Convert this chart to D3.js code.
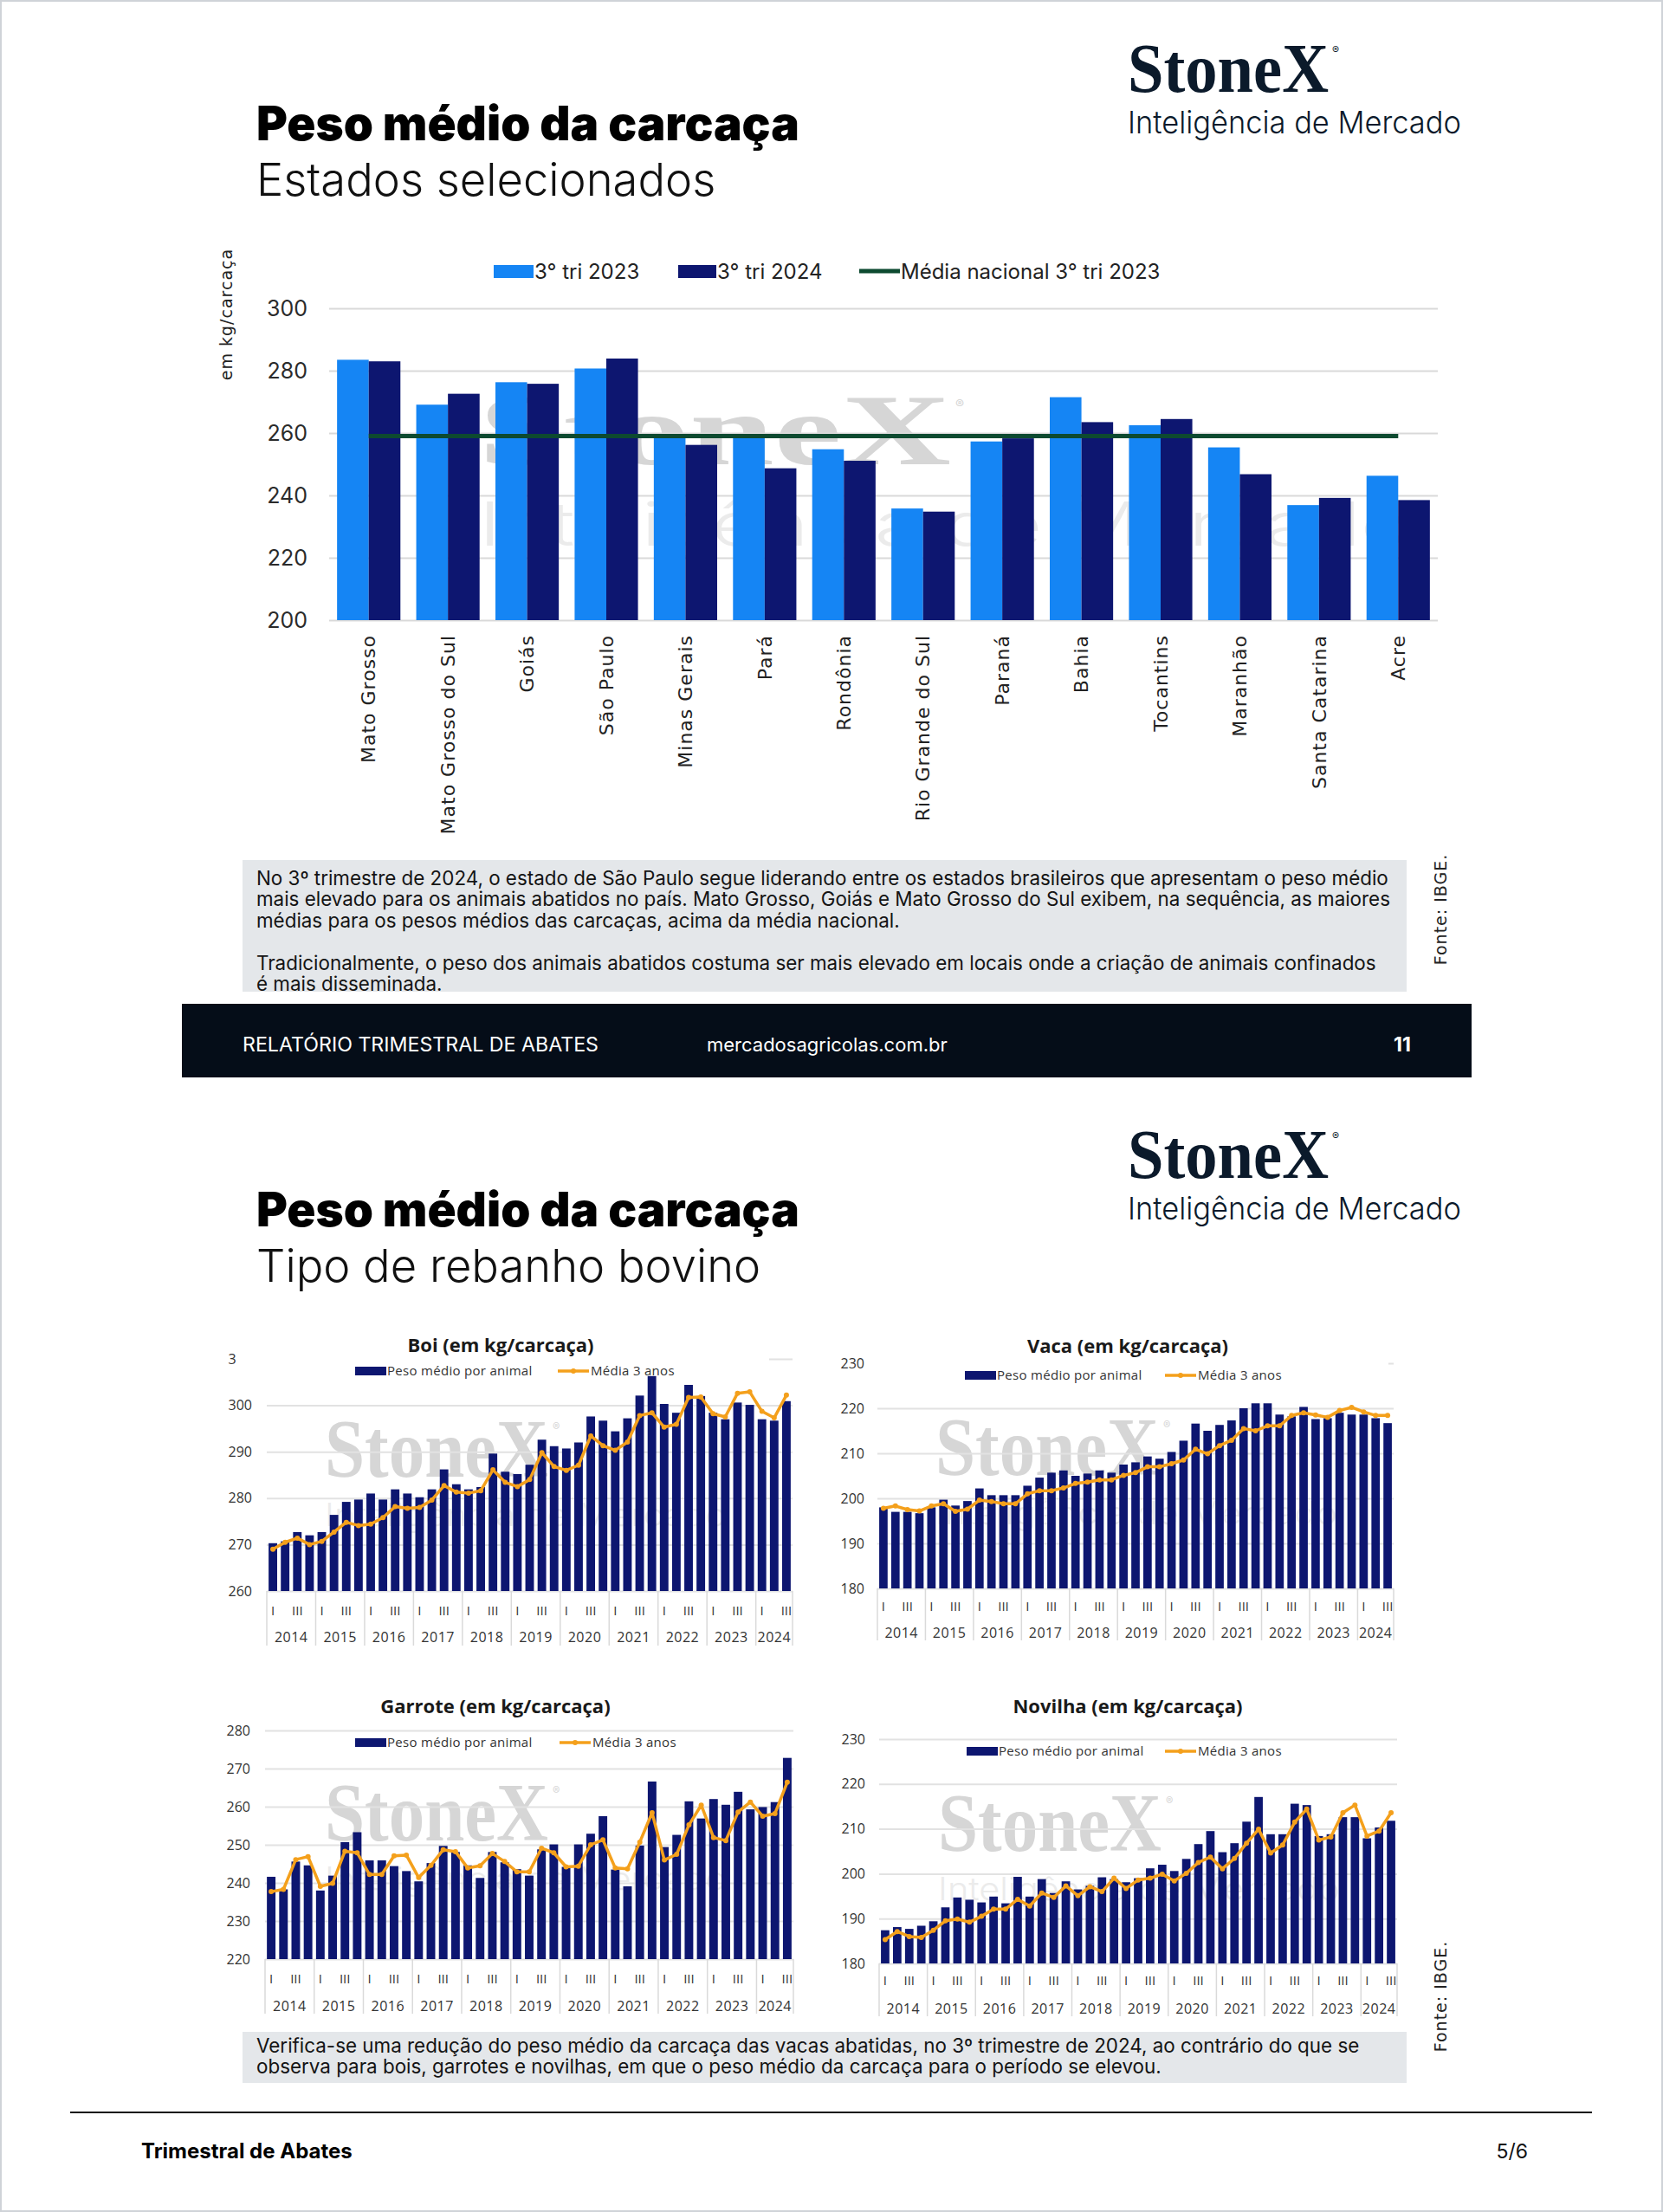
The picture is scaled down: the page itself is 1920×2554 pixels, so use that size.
<!DOCTYPE html>
<html><head><meta charset="utf-8">
<script src="https://cdn.jsdelivr.net/npm/d3@7"></script>
<style>
body{margin:0;background:#fff;}
svg{display:block;}
</style></head><body>
<svg id="page" width="1920" height="2554"></svg>
<script>
// ---------------- DATA ----------------
const states = ["Mato Grosso","Mato Grosso do Sul","Goiás","São Paulo","Minas Gerais","Pará","Rondônia","Rio Grande do Sul","Paraná","Bahia","Tocantins","Maranhão","Santa Catarina","Acre"];
const tri2023 = [283.5,269.1,276.3,280.7,259.6,259.6,254.8,235.8,257.3,271.5,262.5,255.4,236.9,246.3];
const tri2024 = [283.0,272.6,275.8,283.9,256.2,248.7,251.1,234.8,258.3,263.5,264.5,246.8,239.2,238.5];
const mediaNacional2023 = 259.0;
const topTicks = [200,220,240,260,280,300];
const topLegend = ["3° tri 2023","3° tri 2024","Média nacional 3° tri 2023"];

const years = ["2014","2015","2016","2017","2018","2019","2020","2021","2022","2023","2024"];
const quarterNames = ["I","II","III","IV"];
const quarterLabelsShown = ["I","III"];
const smallLegend = ["Peso médio por animal","Média 3 anos"];

const boiPeso = [270.3,270.7,272.7,272.0, 272.7,276.4,279.2,279.7, 281.0,279.7,281.9,281.0, 280.2,281.9,286.2,283.0, 281.9,282.4,289.6,285.7, 285.2,287.2,292.6,291.2, 290.7,292.0,297.6,296.7, 294.4,297.2,302.1,306.3, 300.3,298.4,304.4,302.0, 298.4,297.0,300.6,300.1, 297.0,296.7,300.9];
const boiMedia = [269.0,270.5,271.4,270.0, 270.7,272.7,274.8,274.1, 274.4,275.8,278.2,277.8, 278.0,279.6,282.7,281.3, 281.1,281.6,286.1,283.4, 282.5,284.0,289.8,286.8, 286.0,287.1,293.4,291.3, 290.3,292.1,297.8,298.4, 295.3,295.9,301.7,301.8, 298.2,297.5,302.6,302.9, 298.7,297.3,302.2];
const boiTicks = [260,270,280,290,300,310];

const vacaPeso = [198.0,197.0,197.0,196.7, 198.0,199.7,198.4,199.4, 202.2,200.7,200.7,200.7, 202.8,204.6,205.7,206.2, 205.0,205.5,206.2,205.7, 207.5,208.0,209.3,208.8, 210.3,212.8,216.6,215.0, 216.3,217.3,220.0,221.1, 221.1,218.6,218.2,220.3, 217.6,217.8,219.0,218.6, 218.6,217.8,216.7];
const vacaMedia = [197.8,198.3,197.5,197.2, 198.3,198.8,197.1,197.6, 199.6,199.3,198.8,198.8, 201.0,201.7,201.7,202.3, 203.3,203.6,204.1,204.1, 205.1,205.7,207.0,207.0, 207.7,208.5,210.9,209.9, 211.7,212.9,215.5,215.0, 216.1,216.1,218.4,219.0, 218.5,218.0,219.5,220.2, 219.2,218.4,218.4];
const vacaTicks = [180,190,200,210,220,230];

const garrotePeso = [241.6,238.3,245.6,244.6, 238.0,241.9,250.7,253.3, 245.9,245.9,244.4,243.1, 240.4,245.2,249.7,248.1, 244.6,241.3,248.1,245.4, 243.6,241.9,248.8,250.1, 244.2,250.1,252.9,257.5, 243.5,239.1,249.8,266.6, 249.4,252.6,261.4,256.9, 262.0,260.5,263.9,259.3, 259.9,261.2,272.8];
const garroteMedia = [237.7,238.3,246.1,246.9, 239.1,239.9,248.3,247.9, 242.2,242.2,247.1,247.3, 241.4,244.6,248.7,248.2, 243.9,244.5,247.7,245.6, 242.9,242.9,249.1,247.9, 244.2,244.4,250.0,251.3, 243.9,243.7,250.7,258.4, 246.0,247.5,255.2,260.4, 251.9,251.1,258.6,261.2, 257.5,258.2,266.4];
const garroteTicks = [220,230,240,250,260,270,280];

const novilhaPeso = [187.4,188.1,187.7,188.4, 189.4,192.5,194.7,194.2, 193.6,194.9,193.4,199.3, 194.9,198.8,195.7,198.3, 196.5,197.3,199.2,198.8, 198.1,199.0,201.2,202.0, 200.6,203.3,206.6,209.5, 204.8,206.8,211.6,217.1, 208.8,208.8,215.6,215.3, 208.4,208.8,212.6,212.6, 207.9,210.3,211.8];
const novilhaMedia = [185.3,187.1,186.0,185.8, 187.4,189.5,189.9,189.2, 190.5,192.1,192.1,194.3, 192.8,195.7,194.7,197.3, 195.1,197.1,196.0,199.0, 196.7,198.6,199.0,199.9, 198.4,200.1,202.5,203.7, 201.1,203.4,206.8,209.9, 204.6,206.4,211.5,214.4, 207.5,208.2,213.6,215.3, 208.4,209.5,213.6];
const novilhaTicks = [180,190,200,210,220,230];

const textTop = [
 "No 3º trimestre de 2024, o estado de São Paulo segue liderando entre os estados brasileiros que apresentam o peso médio",
 "mais elevado para os animais abatidos no país. Mato Grosso, Goiás e Mato Grosso do Sul exibem, na sequência, as maiores",
 "médias para os pesos médios das carcaças, acima da média nacional.",
 "",
 "Tradicionalmente, o peso dos animais abatidos costuma ser mais elevado em locais onde a criação de animais confinados",
 "é mais disseminada."
];
const textBottom = [
 "Verifica-se uma redução do peso médio da carcaça das vacas abatidas, no 3º trimestre de 2024, ao contrário do que se",
 "observa para bois, garrotes e novilhas, em que o peso médio da carcaça para o período se elevou."
];

// ---------------- DRAW ----------------
const svg = d3.select("#page");
const W = 1920, H = 2554;
const LIGHT = "#1585f4", NAVY = "#0d1670", GREEN = "#0d4a30", ORANGE = "#f4a01c";
const SANS = "Inter, 'Noto Sans', sans-serif";
const WIDE = "'DejaVu Sans', sans-serif";
const CHART = "'Open Sans', 'Noto Sans', sans-serif";
const SERIF = "'Liberation Serif', serif";

svg.append("rect").attr("x",1).attr("y",1).attr("width",W-2).attr("height",H-2)
  .attr("fill","#fff").attr("stroke","#cfd3d8").attr("stroke-width",2);

// text squeezed/stretched horizontally to a target width via a transform
function scaledText(parent, x, y, str, target, attrs){
  const g = parent.append("g").attr("transform",`translate(${x},${y})`);
  const t = g.append("text").text(str);
  Object.entries(attrs).forEach(([k,v]) => t.attr(k,v));
  const w = t.node().getComputedTextLength() || target;
  g.attr("transform",`translate(${x},${y}) scale(${target/w},1)`);
  return t;
}

function header(dy, subtitle){
  scaledText(svg, 296, dy+162, "Peso médio da carcaça", 627,
    {"font-family":SANS,"font-weight":900,"font-size":55,"fill":"#000"});
  svg.append("text").attr("x",296).attr("y",dy+226).text(subtitle)
    .attr("font-family",SANS).attr("font-weight",300).attr("font-size",52.5).attr("fill","#111");
  scaledText(svg, 1302, dy+106, "StoneX", 232,
    {"font-family":SERIF,"font-weight":700,"font-size":80,"fill":"#0b1a2b"});
  svg.append("text").attr("x",1538).attr("y",dy+62).text("®")
    .attr("font-family",SANS).attr("font-size",12).attr("fill","#0b1a2b");
  scaledText(svg, 1302, dy+154, "Inteligência de Mercado", 385,
    {"font-family":SANS,"font-weight":300,"font-size":36,"fill":"#0b1a2b"});
}
header(0, "Estados selecionados");
header(1254, "Tipo de rebanho bovino");

function watermark(x, y, size, len, subSize, subDy, subLen){
  const g = svg.append("g").attr("pointer-events","none");
  scaledText(g, x, y, "StoneX", len, {"font-family":SERIF,"font-weight":700,"font-size":size,"fill":"#d6d6d6"});
  g.append("text").attr("x",x+len+5).attr("y",y-size*0.55).text("®")
    .attr("font-family",SANS).attr("font-size",size*0.13).attr("fill","#d6d6d6");
  scaledText(g, x, y+subDy, "Inteligência de Mercado", subLen,
    {"font-family":SANS,"font-weight":300,"font-size":subSize,"fill":"#ebebeb"});
}

// ---------- TOP CHART ----------
(function(){
  const x0 = 380, x1 = 1660, yB = 716, yT = 356;
  const x = d3.scaleBand().domain(states).range([x0,x1]).paddingInner(0.2).paddingOuter(0.1);
  const xs = d3.scaleBand().domain(["a","b"]).range([0,x.bandwidth()]);
  const y = d3.scaleLinear().domain([200,300]).range([yB,yT]);

  watermark(553, 536, 116, 545, 70, 94, 1075);

  const ax = svg.append("g").attr("transform",`translate(${x0},0)`)
    .call(d3.axisLeft(y).tickValues(topTicks).tickSize(-(x1-x0)).tickPadding(25).tickFormat(d3.format("d")));
  ax.select(".domain").remove();
  ax.selectAll("line").attr("stroke","#d9d9d9").attr("stroke-width",2);
  ax.selectAll("text").attr("font-family",SANS).attr("font-size",25).attr("fill","#2b2b2b");

  const g = svg.append("g");
  g.selectAll(".b23").data(states).join("rect")
    .attr("x",(d)=>x(d)+xs("a")).attr("width",xs.bandwidth())
    .attr("y",(d,i)=>y(tri2023[i])).attr("height",(d,i)=>y(200)-y(tri2023[i]))
    .attr("fill",LIGHT);
  g.selectAll(".b24").data(states).join("rect")
    .attr("x",(d)=>x(d)+xs("b")).attr("width",xs.bandwidth())
    .attr("y",(d,i)=>y(tri2024[i])).attr("height",(d,i)=>y(200)-y(tri2024[i]))
    .attr("fill",NAVY);
  g.append("line")
    .attr("x1",x(states[0])+x.bandwidth()/2).attr("x2",x(states[states.length-1])+x.bandwidth()/2)
    .attr("y1",y(mediaNacional2023)).attr("y2",y(mediaNacional2023))
    .attr("stroke",GREEN).attr("stroke-width",5);

  g.selectAll(".cat").data(states).join("text")
    .attr("transform",d=>`translate(${x(d)+x.bandwidth()/2},733) rotate(-90)`)
    .attr("text-anchor","end").attr("dy","0.35em").text(d=>d)
    .attr("font-family",WIDE).attr("font-size",22).attr("letter-spacing",1).attr("fill","#222");

  svg.append("text").attr("transform","translate(261,363) rotate(-90)").attr("text-anchor","middle")
    .attr("dy","0.35em").text("em kg/carcaça")
    .attr("font-family",WIDE).attr("font-size",19).attr("letter-spacing",1).attr("fill","#222");

  // legend
  const lg = svg.append("g").attr("font-family",SANS).attr("font-size",24).attr("fill","#222");
  lg.append("rect").attr("x",570).attr("y",306).attr("width",46).attr("height",15).attr("fill",LIGHT);
  lg.append("text").attr("x",617).attr("y",314).attr("dy","0.35em").text(topLegend[0]);
  lg.append("rect").attr("x",783).attr("y",306).attr("width",44).attr("height",15).attr("fill",NAVY);
  lg.append("text").attr("x",828).attr("y",314).attr("dy","0.35em").text(topLegend[1]);
  lg.append("line").attr("x1",992).attr("x2",1039).attr("y1",313).attr("y2",313).attr("stroke",GREEN).attr("stroke-width",5);
  lg.append("text").attr("x",1040).attr("y",314).attr("dy","0.35em").text(topLegend[2]);
})();

// text boxes
function textBox(x, y, w, h, lines, baseline0){
  svg.append("rect").attr("x",x).attr("y",y).attr("width",w).attr("height",h).attr("fill","#e4e7ea");
  svg.append("g").selectAll("text").data(lines).join("text")
    .attr("x",296).attr("y",(d,i)=>baseline0 + i*24.4).text(d=>d)
    .attr("font-family",SANS).attr("font-size",22.4).attr("fill","#141414");
}
textBox(280, 993, 1344, 152, textTop, 1022);
textBox(280, 2346, 1344, 59, textBottom, 2370);

function fonte(cx, cy){
  svg.append("text").attr("transform",`translate(${cx},${cy}) rotate(-90)`).attr("text-anchor","middle")
    .attr("dy","0.35em").text("Fonte: IBGE.")
    .attr("font-family",WIDE).attr("font-size",19).attr("letter-spacing",1).attr("fill","#222");
}
fonte(1663, 1050);
fonte(1663, 2305);

// footer bar
svg.append("rect").attr("x",210).attr("y",1159).attr("width",1489).attr("height",85).attr("fill","#050d18");
svg.append("text").attr("x",280).attr("y",1214).text("RELATÓRIO TRIMESTRAL DE ABATES")
  .attr("font-family",SANS).attr("font-size",23.2).attr("fill","#fff");
svg.append("text").attr("x",816).attr("y",1214).text("mercadosagricolas.com.br")
  .attr("font-family",SANS).attr("font-size",22).attr("fill","#fff");
svg.append("text").attr("x",1609).attr("y",1214).text("11")
  .attr("font-family",SANS).attr("font-weight",700).attr("font-size",23).attr("fill","#fff");

// bottom page footer
svg.append("line").attr("x1",81).attr("x2",1838).attr("y1",2439).attr("y2",2439).attr("stroke","#111").attr("stroke-width",2);
svg.append("text").attr("x",163).attr("y",2492).text("Trimestral de Abates")
  .attr("font-family",SANS).attr("font-weight",700).attr("font-size",24).attr("fill","#000");
svg.append("text").attr("x",1764).attr("y",2492).attr("text-anchor","end").text("5/6")
  .attr("font-family",SANS).attr("font-size",23).attr("fill","#111");

// ---------- SMALL CHARTS ----------
function smallChart(c){
  const periods = [];
  years.forEach(yr => quarterNames.forEach(q => periods.push({yr, q, key: yr+"-"+q})));
  const per = periods.slice(0, c.peso.length);
  const x = d3.scaleBand().domain(per.map(p=>p.key)).range([c.x0,c.x1]).paddingInner(0.3).paddingOuter(0.15);
  const y = d3.scaleLinear().domain([c.ticks[0], c.ticks[c.ticks.length-1]]).range([c.yB,c.yT]);
  const cx = k => x(k) + x.bandwidth()/2;

  watermark(c.wm[0], c.wm[1], 96, 258, 37, 57, 464);

  const ax = svg.append("g").attr("transform",`translate(${c.x0},0)`)
    .call(d3.axisLeft(y).tickValues(c.ticks).tickSize(-(c.x1-c.x0)).tickPadding(c.x0-c.labelRight).tickFormat(d3.format("d")));
  ax.select(".domain").remove();
  ax.selectAll("line").attr("stroke","#e2e2e2").attr("stroke-width",2);
  ax.selectAll("text").attr("font-family",CHART).attr("font-size",16).attr("fill","#333");

  const g = svg.append("g");
  g.selectAll("rect").data(per).join("rect")
    .attr("x",d=>x(d.key)).attr("width",x.bandwidth())
    .attr("y",(d,i)=>y(c.peso[i])).attr("height",(d,i)=>y(c.ticks[0])-y(c.peso[i]))
    .attr("fill",NAVY);
  const line = d3.line().x((d,i)=>cx(per[i].key)).y(d=>y(d));
  g.append("path").datum(c.media).attr("d",line).attr("fill","none")
    .attr("stroke",ORANGE).attr("stroke-width",3.5).attr("stroke-linejoin","round");
  g.selectAll("circle").data(c.media).join("circle")
    .attr("cx",(d,i)=>cx(per[i].key)).attr("cy",d=>y(d)).attr("r",3).attr("fill",ORANGE);

  // category axis
  const step = x.step(), pad = step*x.paddingInner()/2;
  const ca = svg.append("g").attr("font-family",CHART).attr("fill","#333");
  ca.selectAll(".q").data(per.filter(p=>quarterLabelsShown.includes(p.q))).join("text")
    .attr("x",d=>cx(d.key)).attr("y",c.qY).attr("text-anchor","middle").attr("dy","0.35em")
    .attr("font-size",15).text(d=>d.q);
  const yrs = years.filter(yr => per.some(p=>p.yr===yr));
  ca.selectAll(".y").data(yrs).join("text")
    .attr("x",yr=>{ const ks = per.filter(p=>p.yr===yr); return (cx(ks[0].key)+cx(ks[ks.length-1].key))/2; })
    .attr("y",c.yrY).attr("text-anchor","middle").attr("dy","0.35em").attr("font-size",16).attr("letter-spacing",0.5)
    .text(yr=>yr);
  const seps = yrs.map(yr => x(per.find(p=>p.yr===yr).key) - pad - (yr===yrs[0] ? step*x.paddingOuter()-pad : 0));
  seps.push(c.x1);
  ca.selectAll("line").data(seps).join("line")
    .attr("x1",d=>d).attr("x2",d=>d).attr("y1",c.yB).attr("y2",c.sepY)
    .attr("stroke","#dadada").attr("stroke-width",1.5);

  if (c.cover) {
    svg.append("rect").attr("x",c.cover[0]).attr("y",c.cover[1]).attr("width",c.cover[2]).attr("height",c.cover[3]).attr("fill","#fff");
  }
  // title
  svg.append("text").attr("x",c.titleX).attr("y",c.titleY).attr("text-anchor","middle").text(c.title)
    .attr("font-family",CHART).attr("font-weight",700).attr("font-size",22).attr("fill","#1a1a1a");
  // legend
  const lg = svg.append("g").attr("font-family",CHART).attr("font-size",15).attr("fill","#333").attr("letter-spacing",0.3);
  lg.append("rect").attr("x",c.leg[0]).attr("y",c.leg[1]-5).attr("width",36).attr("height",10).attr("fill",NAVY);
  lg.append("text").attr("x",c.leg[0]+37).attr("y",c.leg[1]).attr("dy","0.35em").text(smallLegend[0]);
  lg.append("line").attr("x1",c.leg[2]).attr("x2",c.leg[2]+36).attr("y1",c.leg[1]).attr("y2",c.leg[1])
    .attr("stroke",ORANGE).attr("stroke-width",3.5);
  lg.append("circle").attr("cx",c.leg[2]+18).attr("cy",c.leg[1]).attr("r",3).attr("fill",ORANGE);
  lg.append("text").attr("x",c.leg[2]+38).attr("y",c.leg[1]).attr("dy","0.35em").text(smallLegend[1]);
}

smallChart({title:"Boi (em kg/carcaça)", peso:boiPeso, media:boiMedia, ticks:boiTicks,
  x0:308, x1:915, yB:1837, yT:1569, labelRight:291, qY:1860, yrY:1890, sepY:1900,
  titleX:578, titleY:1561, leg:[410,1583,644], cover:[273,1540,615,48], wm:[375,1705]});
smallChart({title:"Vaca (em kg/carcaça)", peso:vacaPeso, media:vacaMedia, ticks:vacaTicks,
  x0:1013, x1:1609, yB:1834, yT:1574, labelRight:998, qY:1855, yrY:1885, sepY:1894,
  titleX:1302, titleY:1562, leg:[1114,1588,1345], cover:[1003,1545,600,50], wm:[1080,1703]});
smallChart({title:"Garrote (em kg/carcaça)", peso:garrotePeso, media:garroteMedia, ticks:garroteTicks,
  x0:306, x1:916, yB:2262, yT:1998, labelRight:289, qY:2285, yrY:2316, sepY:2325,
  titleX:572, titleY:1978, leg:[410,2012,646], cover:null, wm:[375,2125]});
smallChart({title:"Novilha (em kg/carcaça)", peso:novilhaPeso, media:novilhaMedia, ticks:novilhaTicks,
  x0:1015, x1:1613, yB:2267, yT:2008, labelRight:999, qY:2287, yrY:2319, sepY:2328,
  titleX:1302, titleY:1978, leg:[1116,2022,1345], cover:null, wm:[1083,2137]});
</script>
</body></html>
